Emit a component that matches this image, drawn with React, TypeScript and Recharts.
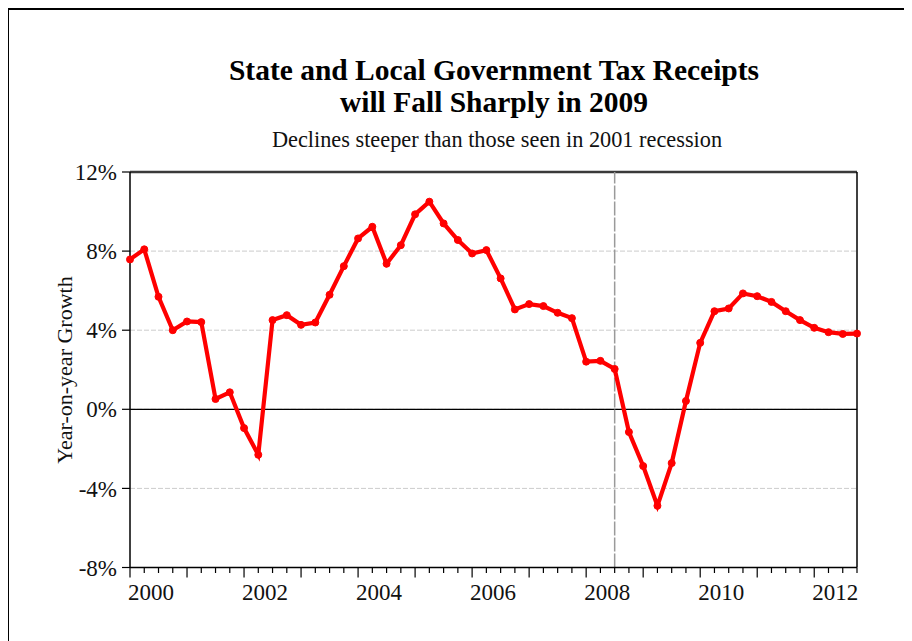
import React from 'react';
import {
  LineChart,
  Line,
  XAxis,
  YAxis,
  CartesianGrid,
  ReferenceLine,
  Customized,
} from 'recharts';

const years = ['2000', '2001', '2002', '2003', '2004', '2005', '2006', '2007', '2008', '2009', '2010', '2011', '2012'];
const quarterNames = ['Q1', 'Q2', 'Q3', 'Q4'];

const growth = [
  7.58, 8.09, 5.69, 4.0,
  4.44, 4.41, 0.52, 0.86,
  -0.95, -2.3, 4.51, 4.76,
  4.27, 4.39, 5.79, 7.24,
  8.64, 9.23, 7.36, 8.3,
  9.86, 10.5, 9.4, 8.56,
  7.88, 8.05, 6.62, 5.05,
  5.32, 5.22, 4.88, 4.61,
  2.41, 2.45, 2.04, -1.15,
  -2.87, -4.88, -2.72, 0.42,
  3.36, 4.96, 5.1, 5.86,
  5.72, 5.43, 4.96, 4.51,
  4.12, 3.9, 3.81, 3.83,
];

const yTicks = [-8, -4, 0, 4, 8, 12];
const labeledYears = ['2000', '2002', '2004', '2006', '2008', '2010', '2012'];
const markerQuarter = '2008Q3';

const quarters: string[] = [];
years.forEach((y) => quarterNames.forEach((q) => quarters.push(y + q)));

const data = growth.map((v, i) => ({ q: i, label: quarters[i], value: v }));
const xTicks = data.map((d) => d.q);
const markerIndex = quarters.indexOf(markerQuarter);
const lastIndex = data.length - 1;

const FONT = '"Liberation Serif", "Times New Roman", serif';

const XTick = (props: any) => {
  const { x, y, payload } = props;
  const idx = payload.value as number;
  const label = quarters[idx] || '';
  const year = label.slice(0, 4);
  const isYearStart = label.endsWith('Q1');
  const showLabel = isYearStart && labeledYears.includes(year);
  return (
    <g>
      <line x1={x} x2={x} y1={y} y2={y + (isYearStart ? 10 : 5.5)} stroke="#000" strokeWidth={1.2} />
      {showLabel && (
        <text x={x - 2} y={y + 32} textAnchor="start" fontFamily={FONT} fontSize={23} fill="#111">
          {year}
        </text>
      )}
    </g>
  );
};

const Titles = () => (
  <g fontFamily={FONT}>
    <text x={486} y={72} textAnchor="middle" fontSize={29.5} fontWeight="bold" fill="#000">
      State and Local Government Tax Receipts
    </text>
    <text x={486} y={104} textAnchor="middle" fontSize={29.5} fontWeight="bold" fill="#000">
      will Fall Sharply in 2009
    </text>
    <text x={489} y={139} textAnchor="middle" fontSize={22.3} fill="#111">
      Declines steeper than those seen in 2001 recession
    </text>
    <text
      x={0}
      y={0}
      transform="translate(64, 362) rotate(-90)"
      textAnchor="middle"
      fontSize={22}
      fill="#111"
    >
      Year-on-year Growth
    </text>
  </g>
);

export default function App() {
  return (
    <div style={{ position: 'relative', width: 904, height: 633, overflow: 'hidden' }}>
      <div
        style={{
          position: 'absolute',
          left: -1,
          top: 0,
          width: 1000,
          height: 1000,
          border: '2.5px solid #000',
          boxSizing: 'border-box',
        }}
      />
      <div style={{ position: 'absolute', left: 0, top: 0 }}>
        <LineChart
          width={904}
          height={633}
          data={data}
          margin={{ top: 164, right: 55, bottom: 43.5, left: 0 }}
        >
          <CartesianGrid
            horizontal
            vertical={false}
            stroke="#cccccc"
            strokeDasharray="5 2"
          />
          <XAxis
            dataKey="q"
            type="number"
            domain={[0, lastIndex]}
            ticks={xTicks}
            interval={0}
            height={30}
            tickSize={0}
            tickMargin={0}
            tickLine={false}
            tick={<XTick />}
            axisLine={{ stroke: '#000', strokeWidth: 1.5 }}
          />
          <YAxis
            type="number"
            domain={[-8, 12]}
            ticks={yTicks}
            interval={0}
            width={122}
            tickSize={8}
            tickMargin={5}
            tickFormatter={(v: number) => `${v}%`}
            tick={{ fontFamily: FONT, fontSize: 23, fill: '#111' }}
            tickLine={{ stroke: '#000', strokeWidth: 1.2 }}
            axisLine={{ stroke: '#000', strokeWidth: 1.5 }}
          />
          <ReferenceLine y={0} stroke="#000" strokeWidth={1.3} ifOverflow="extendDomain" />
          <ReferenceLine y={12} stroke="#3a3a3a" strokeWidth={2.5} />
          <ReferenceLine x={lastIndex} stroke="#000" strokeWidth={1.5} />
          <ReferenceLine x={markerIndex} stroke="#9a9a9a" strokeWidth={1.5} strokeDasharray="14 2" />
          <Line
            type="linear"
            dataKey="value"
            stroke="#ff0000"
            strokeWidth={4.2}
            dot={{ r: 3.5, fill: '#ff0000', stroke: '#ff0000', strokeWidth: 1 }}
            isAnimationActive={false}
          />
          <Customized component={Titles} />
        </LineChart>
      </div>
    </div>
  );
}
